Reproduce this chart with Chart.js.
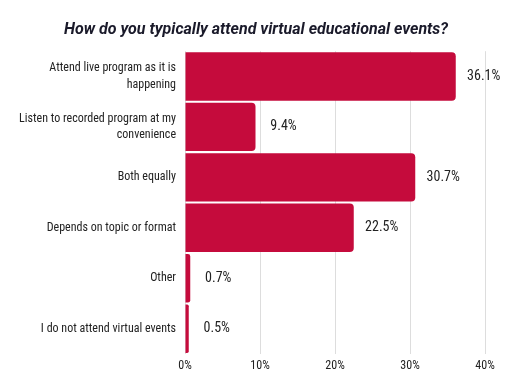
<!DOCTYPE html>
<html><head><meta charset="utf-8">
<script src="https://cdn.jsdelivr.net/npm/chart.js@4/dist/chart.umd.min.js"></script>
<style>html,body{margin:0;padding:0;background:#fff}#wrap{width:512px;height:384px}</style>
</head><body><div id="wrap"><canvas id="c" width="512" height="384"></canvas></div>
<script>
const categories = [
  ["Attend live program as it is", "happening"],
  ["Listen to recorded program at my", "convenience"],
  "Both equally",
  "Depends on topic or format",
  "Other",
  "I do not attend virtual events"
];
const percentages = [36.1, 9.4, 30.7, 22.5, 0.7, 0.5];
const tickValues = [0, 10, 20, 30, 40];

const narrow = "'Roboto Condensed', 'Liberation Sans Narrow', Roboto, sans-serif";

const valueLabels = {
  id: 'valueLabels',
  afterDatasetsDraw(chart) {
    const ctx = chart.ctx;
    const meta = chart.getDatasetMeta(0);
    ctx.save();
    ctx.font = '14px ' + narrow;
    ctx.fillStyle = '#222';
    ctx.textAlign = 'center';
    ctx.textBaseline = 'middle';
    meta.data.forEach((bar, i) => {
      ctx.fillText(percentages[i].toFixed(1) + '%', bar.x + 28, bar.y);
    });
    ctx.restore();
  }
};

new Chart(document.getElementById('c'), {
  type: 'bar',
  data: {
    labels: categories,
    datasets: [{
      data: percentages,
      backgroundColor: '#c50b3c',
      borderRadius: 4,
      borderSkipped: 'start',
      barPercentage: 0.96,
      categoryPercentage: 1.0
    }]
  },
  options: {
    indexAxis: 'y',
    responsive: false,
    animation: false,
    layout: { padding: 0 },
    plugins: {
      legend: { display: false },
      tooltip: { enabled: false },
      title: {
        display: true,
        text: 'How do you typically attend virtual educational events?',
        font: { family: 'Roboto', size: 16, weight: 'bold', style: 'italic' },
        color: '#1a1a2a',
        padding: { top: 20, bottom: 12 }
      }
    },
    scales: {
      x: {
        min: 0, max: 40,
        afterBuildTicks(scale) { scale.ticks = tickValues.map(v => ({ value: v })); },
        afterFit(scale) { scale.height = 30; },
        grid: { color: '#dddddd', drawTicks: false },
        border: { display: false },
        ticks: {
          padding: 5,
          font: { family: narrow, size: 12 },
          color: '#222',
          callback: v => v + '%'
        }
      },
      y: {
        afterFit(scale) { scale.width = 185; },
        grid: { display: false, drawTicks: false },
        border: { display: false },
        ticks: {
          padding: 9,
          font: { family: narrow, size: 12, lineHeight: 1.4 },
          color: '#222'
        }
      },
      spacer: {
        type: 'linear',
        position: 'right',
        axis: 'y',
        afterFit(scale) { scale.width = 27; },
        grid: { display: false, drawTicks: false },
        border: { display: false },
        ticks: { display: false }
      }
    }
  },
  plugins: [valueLabels]
});
</script></body></html>
